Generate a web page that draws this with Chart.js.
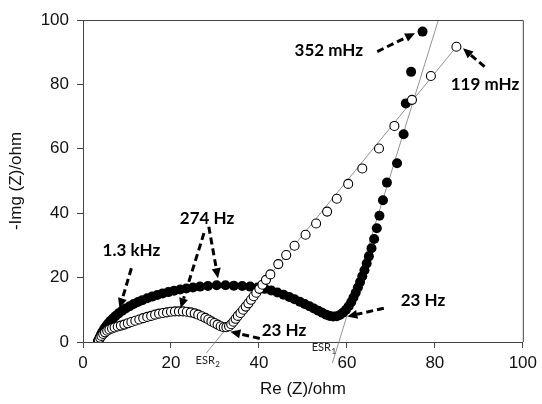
<!DOCTYPE html>
<html>
<head>
<meta charset="utf-8">
<script src="https://cdn.jsdelivr.net/npm/chart.js@4.4.1/dist/chart.umd.min.js"></script>
<style>
  html, body { margin: 0; padding: 0; background: #fff; }
  #wrap { width: 542px; height: 404px; }
</style>
</head>
<body>
<div id="wrap"><canvas id="nyquist"></canvas></div>
<script>
// Filled circles (sample 1)
const filledRe = [3.4, 3.6, 3.8, 4.1, 4.4, 4.8, 5.2, 5.7, 6.2, 6.8, 7.4, 8.1, 8.9, 9.7, 10.6, 11.5, 12.5, 13.5, 14.6, 15.7,
  16.9, 18.1, 19.4, 20.7, 22.1, 23.5, 25.0, 26.6, 28.4, 30.4, 32.4, 34.3, 36.2, 38.0, 39.7, 41.3, 42.8, 44.2, 45.6, 46.9,
  48.1, 49.3, 50.4, 51.5, 52.5, 53.5, 54.4, 55.3, 56.1, 56.9, 57.7, 58.4, 59.1, 59.8, 60.4, 61.0, 61.5, 62.0, 62.5, 63.0,
  63.5, 64.0, 64.5, 65.0, 65.6, 66.2, 66.8, 67.4, 68.2, 69.1, 71.4, 72.9, 73.4, 74.6, 77.2];
const filledIm = [0.2, 0.8, 1.5, 2.3, 3.1, 4.0, 4.8, 5.7, 6.5, 7.3, 8.1, 8.9, 9.7, 10.4, 11.1, 11.8, 12.4, 13.0, 13.6, 14.1,
  14.6, 15.1, 15.5, 15.9, 16.3, 16.6, 16.9, 17.2, 17.4, 17.6, 17.6, 17.5, 17.4, 17.2, 16.9, 16.5, 16.0, 15.4, 14.7, 14.0,
  13.3, 12.5, 11.8, 11.1, 10.4, 9.7, 9.1, 8.5, 8.1, 7.9, 8.0, 8.4, 9.1, 10.0, 11.1, 12.4, 13.8, 15.3, 16.9, 18.6,
  20.4, 22.3, 24.4, 26.6, 29.1, 32.0, 35.3, 39.2, 44.0, 49.5, 55.5, 64.5, 74.1, 83.9, 96.4];

// Open circles (sample 2)
const openRe = [3.4, 3.6, 3.9, 4.2, 4.6, 5.0, 5.5, 6.0, 6.6, 7.2, 7.9, 8.6, 9.4, 10.2, 11.0, 11.9, 12.8, 13.7, 14.6, 15.5,
  16.4, 17.3, 18.2, 19.1, 20.0, 20.9, 21.8, 22.7, 23.6, 24.5, 25.4, 26.2, 27.0, 27.8, 28.5, 29.2, 29.9, 30.6, 31.3, 32.0,
  32.6, 33.2, 33.7, 34.2, 34.7, 35.2, 35.8, 36.4, 37.0, 37.6, 38.2, 38.8, 39.4, 40.1, 40.8, 41.6, 42.6, 44.4, 46.2, 48.1,
  50.6, 53.0, 55.5, 57.7, 60.3, 63.5, 67.3, 70.8, 74.8, 79.1, 84.9];
const openIm = [0.2, 0.7, 1.3, 1.9, 2.5, 3.0, 3.5, 3.9, 4.2, 4.5, 4.8, 5.1, 5.4, 5.8, 6.2, 6.6, 7.0, 7.4, 7.8, 8.1,
  8.5, 8.8, 9.0, 9.2, 9.4, 9.5, 9.5, 9.5, 9.4, 9.2, 8.9, 8.5, 8.0, 7.5, 7.0, 6.4, 5.9, 5.4, 4.9, 4.6,
  4.6, 4.9, 5.5, 6.3, 7.2, 8.1, 9.0, 10.0, 11.0, 12.0, 13.1, 14.2, 15.3, 16.5, 17.8, 19.3, 21.0, 24.2, 27.0, 29.9,
  33.3, 36.8, 40.5, 44.5, 49.1, 53.9, 60.1, 67.1, 75.2, 82.6, 91.7];

// ESR extrapolation lines (end points)
const esr1Re = [56.7, 80.8];
const esr1Im = [-6.5, 100];
const esr2Re = [28.0, 84.9];
const esr2Im = [-3.5, 91.7];

// Frequency notes and dashed arrows (data units)
const noteText = ['1.3 kHz', '274 Hz', '23 Hz', '23 Hz', '352 mHz', '119 mHz'];
const noteRe = [11.0, 28.2, 45.7, 77.3, 55.9, 91.4];
const noteIm = [28.3, 38.5, 3.7, 13.0, 90.4, 80.1];
const arrowFromRe = [11.0, 27.5, 28.6, 40.2, 68.4, 66.9, 91.3];
const arrowFromIm = [22.9, 33.8, 35.8, 1.1, 10.5, 90.2, 85.5];
const arrowToRe = [8.3, 22.2, 30.7, 33.5, 60.1, 75.5, 86.4];
const arrowToIm = [10.5, 10.5, 19.8, 3.2, 7.9, 95.9, 91.2];

const xTicks = [0, 20, 40, 60, 80, 100];
const yTicks = [0, 20, 40, 60, 80, 100];

function pts(xs, ys) {
    return xs.map((x, i) => ({ x: x, y: ys[i] }));
}

function drawArrow(ctx, x1, y1, x2, y2) {
    const ang = Math.atan2(y2 - y1, x2 - x1);
    const head = 10;
    const bx = x2 - head * Math.cos(ang);
    const by = y2 - head * Math.sin(ang);
    ctx.save();
    ctx.strokeStyle = '#000';
    ctx.fillStyle = '#000';
    ctx.lineWidth = 3;
    ctx.setLineDash([7, 4]);
    ctx.beginPath();
    ctx.moveTo(x1, y1);
    ctx.lineTo(bx, by);
    ctx.stroke();
    ctx.setLineDash([]);
    ctx.beginPath();
    ctx.moveTo(x2, y2);
    ctx.lineTo(bx + 4.5 * Math.sin(ang), by - 4.5 * Math.cos(ang));
    ctx.lineTo(bx - 4.5 * Math.sin(ang), by + 4.5 * Math.cos(ang));
    ctx.closePath();
    ctx.fill();
    ctx.restore();
}

// Top/right frame, arrows and text notes
const notesPlugin = {
    id: 'notes',
    afterDraw(chart) {
        const ctx = chart.ctx;
        const a = chart.chartArea;
        const xs = chart.scales.x, ys = chart.scales.y;
        ctx.save();
        ctx.strokeStyle = '#444';
        ctx.lineWidth = 1;
        ctx.beginPath();
        ctx.moveTo(a.left, a.top + 0.5);
        ctx.lineTo(a.right + 0.5, a.top + 0.5);
        ctx.lineTo(a.right + 0.5, a.bottom);
        ctx.stroke();

        for (let i = 0; i < arrowFromRe.length; i++) {
            drawArrow(ctx,
                xs.getPixelForValue(arrowFromRe[i]), ys.getPixelForValue(arrowFromIm[i]),
                xs.getPixelForValue(arrowToRe[i]), ys.getPixelForValue(arrowToIm[i]));
        }

        ctx.fillStyle = '#000';
        ctx.font = 'bold 17px Lato';
        ctx.textAlign = 'center';
        ctx.textBaseline = 'middle';
        noteText.forEach((t, i) => {
            ctx.fillText(t, xs.getPixelForValue(noteRe[i]), ys.getPixelForValue(noteIm[i]));
        });

        // ESR labels with subscripts
        ctx.fillStyle = '#222';
        ctx.textAlign = 'left';
        const esr = [['1', 52.0, -1.6], ['2', 25.6, -5.6]];
        esr.forEach(([sub, re, im]) => {
            const px = xs.getPixelForValue(re), py = ys.getPixelForValue(im);
            ctx.font = '11px Lato';
            ctx.fillText('ESR', px, py);
            const w = ctx.measureText('ESR').width;
            ctx.font = '8px Lato';
            ctx.fillText(sub, px + w + 0.5, py + 4);
        });
        ctx.restore();
    }
};

const axisFont = { family: "'Liberation Sans', Arial, sans-serif", size: 17 };

new Chart(document.getElementById('nyquist'), {
    type: 'scatter',
    data: {
        datasets: [{
            label: 'open',
            data: pts(openRe, openIm),
            pointRadius: 4.5,
            pointBorderWidth: 1.1,
            pointBorderColor: '#000',
            pointBackgroundColor: '#fff',
            order: 0
        }, {
            label: 'filled',
            data: pts(filledRe, filledIm),
            pointRadius: 5,
            pointBorderWidth: 0,
            pointBackgroundColor: '#000',
            order: 1
        }, {
            label: 'ESR1',
            data: pts(esr1Re, esr1Im),
            showLine: true,
            pointRadius: 0,
            borderColor: '#777',
            borderWidth: 0.8,
            clip: false,
            order: 2
        }, {
            label: 'ESR2',
            data: pts(esr2Re, esr2Im),
            showLine: true,
            pointRadius: 0,
            borderColor: '#777',
            borderWidth: 0.8,
            clip: false,
            order: 2
        }]
    },
    options: {
        responsive: true,
        maintainAspectRatio: false,
        animation: false,
        layout: { padding: { left: 0, right: 15, top: 20, bottom: 0 } },
        plugins: {
            legend: { display: false },
            tooltip: { enabled: false }
        },
        scales: {
            x: {
                type: 'linear',
                min: 0,
                max: 100,
                afterFit: s => { s.height = 62; },
                afterBuildTicks: s => { s.ticks = xTicks.map(v => ({ value: v })); },
                grid: { drawOnChartArea: false, drawTicks: true, tickLength: 6, color: '#444' },
                border: { display: true, color: '#444', width: 1 },
                ticks: { color: '#111', font: axisFont, padding: 5 },
                title: { display: true, text: 'Re (Z)/ohm', color: '#111', font: axisFont, padding: { top: 4, bottom: 4 } }
            },
            y: {
                type: 'linear',
                min: 0,
                max: 100,
                afterFit: s => { s.width = 83; },
                afterBuildTicks: s => { s.ticks = yTicks.map(v => ({ value: v })); },
                grid: { drawOnChartArea: false, drawTicks: true, tickLength: 6, color: '#444' },
                border: { display: true, color: '#444', width: 1 },
                ticks: { color: '#111', font: axisFont, padding: 8 },
                title: { display: true, text: '-Img (Z)/ohm', color: '#111', font: axisFont, padding: { top: 6, bottom: 4 } }
            }
        }
    },
    plugins: [notesPlugin]
});
</script>
</body>
</html>
